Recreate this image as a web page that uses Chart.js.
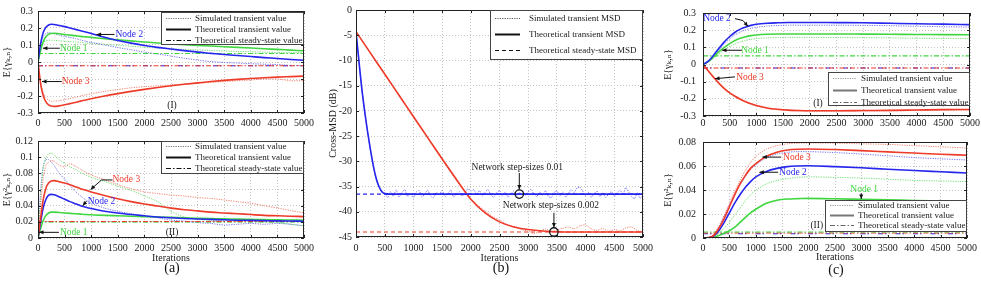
<!DOCTYPE html>
<html>
<head>
<meta charset="utf-8">
<script src="https://cdn.jsdelivr.net/npm/chart.js@4.4.1/dist/chart.umd.min.js"></script>
<style>
  body { margin: 0; background: #fff; }
  #wrap { position: relative; width: 981px; height: 281px; overflow: hidden; font-family: "Liberation Serif", serif; }
  #wrap canvas { position: absolute; }
  .cap { position: absolute; font-size: 14px; transform: translate(-50%, -50%); color: #111; }
</style>
</head>
<body>
<div id="wrap">
  <canvas id="a1" width="318" height="130" style="left:0;top:0"></canvas>
  <canvas id="a2" width="318" height="151" style="left:0;top:130px"></canvas>
  <canvas id="b" width="336" height="281" style="left:322px;top:0"></canvas>
  <canvas id="c1" width="321" height="130" style="left:660px;top:0"></canvas>
  <canvas id="c2" width="321" height="152" style="left:660px;top:129px"></canvas>
  <div class="cap" style="left:172px;top:268px">(a)</div>
  <div class="cap" style="left:501px;top:268px">(b)</div>
  <div class="cap" style="left:836px;top:270px">(c)</div>
</div>
<script>
// ---- tick labels ----
const iterTicks = [0, 500, 1000, 1500, 2000, 2500, 3000, 3500, 4000, 4500, 5000];
const gammaTicks = [-0.3, -0.2, -0.1, 0, 0.1, 0.2, 0.3];
const gamma2TicksA = [0, 0.02, 0.04, 0.06, 0.08, 0.1, 0.12];
const gamma2TicksC = [0, 0.02, 0.04, 0.06, 0.08];
const msdTicks = [-45, -40, -35, -30, -25, -20, -15, -10, -5, 0];

// ---- (a) iterations ----
const itA = [0, 50, 100, 150, 200, 250, 300, 400, 500, 600, 700, 800, 900, 1000, 1250, 1500, 1750, 2000, 2250, 2500, 2750, 3000, 3250, 3500, 3750, 4000, 4250, 4500, 4750, 5000];

// (a)(I) E{gamma}
const aThBlue = [0, 0.11, 0.175, 0.205, 0.218, 0.222, 0.221, 0.215, 0.208, 0.2, 0.192, 0.184, 0.176, 0.168, 0.146, 0.127, 0.111, 0.097, 0.086, 0.076, 0.067, 0.058, 0.051, 0.044, 0.038, 0.032, 0.026, 0.021, 0.015, 0.01];
const aThGreen = [0, 0.07, 0.12, 0.15, 0.163, 0.168, 0.169, 0.166, 0.162, 0.158, 0.155, 0.151, 0.148, 0.145, 0.137, 0.13, 0.124, 0.118, 0.112, 0.107, 0.102, 0.098, 0.094, 0.09, 0.086, 0.082, 0.078, 0.074, 0.07, 0.066];
const aThRed = [0, -0.13, -0.2, -0.235, -0.252, -0.259, -0.261, -0.258, -0.252, -0.245, -0.238, -0.23, -0.223, -0.216, -0.2, -0.186, -0.173, -0.161, -0.15, -0.14, -0.131, -0.123, -0.115, -0.108, -0.102, -0.097, -0.093, -0.089, -0.086, -0.083];
const aSimBlue = [0, 0.1, 0.15, 0.168, 0.172, 0.17, 0.166, 0.158, 0.15, 0.145, 0.138, 0.13, 0.122, 0.115, 0.1, 0.085, 0.072, 0.058, 0.047, 0.035, 0.022, 0.012, 0.002, -0.003, -0.006, -0.01, -0.013, -0.015, -0.02, -0.022];
const aSimGreen = [0, 0.08, 0.115, 0.125, 0.128, 0.128, 0.127, 0.125, 0.122, 0.12, 0.118, 0.115, 0.112, 0.11, 0.104, 0.098, 0.092, 0.087, 0.082, 0.078, 0.074, 0.071, 0.068, 0.065, 0.062, 0.06, 0.058, 0.056, 0.055, 0.054];
const aSimRed = [0, -0.12, -0.18, -0.21, -0.225, -0.232, -0.23, -0.228, -0.222, -0.215, -0.208, -0.2, -0.193, -0.187, -0.173, -0.162, -0.152, -0.145, -0.14, -0.135, -0.13, -0.125, -0.12, -0.115, -0.11, -0.106, -0.1, -0.1, -0.11, -0.11];
const aStGreen = 0.05, aStRed = -0.022, aStBlue = -0.022;

// (a)(II) E{gamma^2}
const a2ThRed = [0, 0.025, 0.048, 0.062, 0.068, 0.0705, 0.071, 0.0695, 0.068, 0.066, 0.0635, 0.061, 0.059, 0.057, 0.0525, 0.0485, 0.045, 0.042, 0.0395, 0.037, 0.035, 0.0335, 0.032, 0.031, 0.03, 0.029, 0.028, 0.0275, 0.027, 0.0265];
const a2ThBlue = [0, 0.02, 0.038, 0.048, 0.053, 0.054, 0.0535, 0.051, 0.048, 0.045, 0.0425, 0.04, 0.038, 0.0365, 0.033, 0.031, 0.029, 0.0275, 0.026, 0.025, 0.0242, 0.0235, 0.023, 0.0225, 0.022, 0.0218, 0.0215, 0.0212, 0.021, 0.0208];
const a2ThGreen = [0, 0.012, 0.022, 0.028, 0.031, 0.032, 0.032, 0.0315, 0.031, 0.0305, 0.03, 0.0295, 0.029, 0.0287, 0.028, 0.0275, 0.027, 0.0265, 0.026, 0.0255, 0.025, 0.0245, 0.024, 0.0237, 0.0233, 0.023, 0.0227, 0.0224, 0.0222, 0.022];
const a2SimRed = [0, 0.04, 0.075, 0.09, 0.094, 0.096, 0.095, 0.09, 0.088, 0.092, 0.089, 0.085, 0.081, 0.078, 0.072, 0.066, 0.061, 0.057, 0.055, 0.053, 0.052, 0.05, 0.049, 0.047, 0.045, 0.043, 0.04, 0.037, 0.034, 0.031];
const a2SimGreen = [0, 0.05, 0.088, 0.1, 0.104, 0.105, 0.103, 0.097, 0.092, 0.088, 0.085, 0.081, 0.078, 0.075, 0.07, 0.064, 0.059, 0.052, 0.045, 0.033, 0.026, 0.023, 0.022, 0.022, 0.021, 0.021, 0.02, 0.019, 0.017, 0.015];
const a2SimBlue = [0, 0.06, 0.09, 0.097, 0.097, 0.094, 0.09, 0.08, 0.073, 0.065, 0.058, 0.052, 0.047, 0.043, 0.037, 0.033, 0.03, 0.027, 0.025, 0.022, 0.021, 0.019, 0.018, 0.016, 0.017, 0.018, 0.017, 0.018, 0.017, 0.015];
const a2StRed = 0.0205, a2StGreen = 0.0198, a2StBlue = 0.0201;

// ---- (b) Cross-MSD (dB) ----
const itBBlue = [0, 50, 100, 150, 200, 250, 300, 350, 400, 450, 500, 600, 800, 1000, 1500, 2000, 2500, 3000, 3500, 4000, 4500, 5000];
const bThBlue = [-4.3, -10, -15.5, -20, -24, -27.6, -30.8, -33.3, -35, -36, -36.4, -36.5, -36.5, -36.5, -36.5, -36.5, -36.5, -36.5, -36.5, -36.5, -36.5, -36.5];
const itBRed = [0, 250, 500, 750, 1000, 1250, 1500, 1750, 2000, 2250, 2500, 2750, 3000, 3250, 3500, 3750, 4000, 4500, 5000];
const bThRed = [-4.3, -8.5, -12.7, -16.9, -21.1, -25.3, -29.5, -33.6, -37.5, -40.2, -42, -43, -43.5, -43.8, -43.95, -44, -44, -44, -44];
const itB50 = Array.from({ length: 101 }, (_, i) => i * 50);
const bSimBlue = [-4.3, -10.1, -15.6, -20.1, -24.1, -27.7, -30.9, -33.5, -35.1, -36.2, -36.3,
  -37.2, -36.0, -36.9, -35.7, -37.1, -36.2, -35.6, -37.0, -36.3, -37.3,
  -36.1, -35.8, -37.1, -36.4, -35.7, -36.9, -37.2, -36.2, -36.6, -35.8,
  -37.0, -36.4, -35.7, -37.1, -36.5, -36.0, -36.9, -36.2, -35.4, -35.9,
  -35.6, -36.5, -35.8, -36.9, -36.1, -35.6, -36.7, -37.1, -36.2, -35.8,
  -36.9, -36.1, -37.1, -36.4, -35.9, -37.0, -36.2, -35.7, -36.7, -36.1,
  -35.5, -36.5, -37.0, -36.1, -36.7, -35.8, -36.9, -37.2, -36.2, -35.9,
  -36.9, -36.1, -37.1, -36.4, -35.6, -36.2, -35.3, -35.1, -35.9, -36.9,
  -36.2, -37.1, -36.4, -35.9, -37.0, -36.2, -37.2, -36.5, -36.0, -36.9,
  -36.2, -35.7, -36.6, -35.2, -36.1, -37.0, -37.4, -36.3, -37.3, -36.8];
const itB100 = Array.from({ length: 51 }, (_, i) => i * 100);
const bSimRed = [-4.3, -6.0, -7.7, -9.4, -11.1, -12.8, -14.5, -16.2, -17.9, -19.6,
  -21.3, -23.0, -24.6, -26.3, -28.0, -29.7, -31.4, -33.0, -34.6, -36.0,
  -37.4, -38.5, -39.4, -40.3, -41.1, -41.6, -42.3, -42.8, -43.0, -43.6,
  -43.8, -44.3, -43.9, -43.4, -44.0, -43.6, -43.3, -43.0, -43.4, -42.8,
  -42.6, -43.4, -43.7, -43.3, -43.9, -43.5, -43.8, -43.2, -43.0, -43.7, -44.0];
const bStBlue = -36.5, bStRed = -44;

// ---- (c) ----
const itC = [0, 100, 200, 300, 400, 500, 600, 700, 800, 900, 1000, 1200, 1400, 1600, 1800, 2000, 2500, 3000, 3500, 4000, 4500, 5000];
const cThBlue = [0, 0.02, 0.055, 0.095, 0.132, 0.163, 0.188, 0.206, 0.219, 0.228, 0.234, 0.24, 0.243, 0.245, 0.245, 0.245, 0.244, 0.243, 0.24, 0.237, 0.235, 0.232];
const cSimBlue = [0, 0.017, 0.048, 0.085, 0.12, 0.15, 0.173, 0.19, 0.202, 0.211, 0.217, 0.224, 0.227, 0.229, 0.229, 0.229, 0.229, 0.228, 0.226, 0.223, 0.22, 0.218];
const cThGreen = [0, 0.018, 0.045, 0.075, 0.1, 0.122, 0.14, 0.153, 0.162, 0.168, 0.172, 0.176, 0.178, 0.178, 0.178, 0.178, 0.178, 0.177, 0.176, 0.175, 0.174, 0.173];
const cSimGreen = [0, 0.014, 0.036, 0.062, 0.085, 0.104, 0.12, 0.132, 0.141, 0.147, 0.151, 0.155, 0.157, 0.158, 0.158, 0.158, 0.157, 0.156, 0.155, 0.153, 0.152, 0.151];
const cThRed = [0, -0.038, -0.075, -0.11, -0.14, -0.165, -0.185, -0.202, -0.217, -0.229, -0.239, -0.253, -0.261, -0.266, -0.268, -0.269, -0.269, -0.268, -0.267, -0.265, -0.263, -0.262];
const cSimRed = [0, -0.04, -0.078, -0.113, -0.143, -0.168, -0.188, -0.205, -0.22, -0.232, -0.242, -0.256, -0.264, -0.269, -0.271, -0.272, -0.272, -0.271, -0.27, -0.268, -0.266, -0.265];
const cStGreen = 0.05, cStRed = -0.02, cStBlue = -0.02;

const c2ThRed = [0, 0.0003, 0.002, 0.008, 0.016, 0.026, 0.036, 0.045, 0.052, 0.058, 0.062, 0.068, 0.0715, 0.0733, 0.074, 0.0742, 0.0737, 0.0728, 0.0718, 0.0708, 0.0698, 0.069];
const c2ThBlue = [0, 0.0002, 0.0015, 0.006, 0.013, 0.021, 0.029, 0.036, 0.042, 0.047, 0.051, 0.0555, 0.058, 0.0595, 0.06, 0.0602, 0.0595, 0.0585, 0.0573, 0.0562, 0.0552, 0.0542];
const c2ThGreen = [0, 0, 0.0005, 0.002, 0.004, 0.006, 0.009, 0.013, 0.017, 0.021, 0.024, 0.029, 0.0315, 0.0325, 0.0328, 0.033, 0.0327, 0.0322, 0.0318, 0.0313, 0.0309, 0.0305];
const c2SimRed = [0, 0.0003, 0.003, 0.01, 0.019, 0.029, 0.039, 0.048, 0.056, 0.063, 0.068, 0.074, 0.077, 0.0785, 0.079, 0.0792, 0.079, 0.0785, 0.078, 0.077, 0.076, 0.075];
const c2SimBlue = [0, 0.0003, 0.0025, 0.009, 0.018, 0.027, 0.036, 0.044, 0.051, 0.057, 0.061, 0.067, 0.07, 0.0715, 0.072, 0.072, 0.0712, 0.07, 0.0685, 0.067, 0.066, 0.065];
const c2SimGreen = [0, 0, 0.001, 0.004, 0.008, 0.013, 0.019, 0.025, 0.031, 0.036, 0.04, 0.045, 0.048, 0.0495, 0.0505, 0.051, 0.0505, 0.05, 0.049, 0.048, 0.0475, 0.047];
const c2StGreen = 0.005, c2StRed = 0.0042, c2StBlue = 0.0036;

// legend texts
const legValue = ['Simulated transient value', 'Theoretical transient value', 'Theoretical steady-state value'];
const legMsd = ['Simulated transient MSD', 'Theoretical transient MSD', 'Theoretical steady-state MSD'];

// ---- styles ----
const RED = '#ee3a28', BLUE = '#2626ee', GREEN = '#40d640';
const RED_L = 'rgba(240,90,70,0.75)', BLUE_L = 'rgba(70,70,240,0.75)', GREEN_L = 'rgba(80,215,80,0.8)';
const INK = '#1a1a1a', GRID = '#c4c4c4';
const FONT = '"Liberation Serif", "DejaVu Serif", serif';
const tickFont = { family: FONT, size: 10 };
const DASHDOT = [5, 2, 1.5, 2];

const pts = (xs, ys) => xs.map((x, i) => ({ x: x, y: ys[i] }));
const th = (xs, ys, c, w) => ({ data: pts(xs, ys), borderColor: c, borderWidth: w || 1.6, pointRadius: 0, cubicInterpolationMode: 'monotone', fill: false });
const sim = (xs, ys, c) => ({ data: pts(xs, ys), borderColor: c, borderWidth: 1, borderDash: [1.2, 1.2], pointRadius: 0, tension: 0.2, fill: false });
const st = (v, c, dash) => ({ data: [{ x: 0, y: v }, { x: 5000, y: v }], borderColor: c, borderWidth: 1.1, borderDash: dash || DASHDOT, pointRadius: 0, fill: false });

function legItems(texts, gray) {
  return [
    { t: texts[0], dash: [1.2, 1.2], w: 1, c: gray ? '#999' : '#777' },
    { t: texts[1], dash: [], w: 2, c: gray ? '#777' : '#111' },
    { t: texts[2], dash: DASHDOT, w: 1, c: gray ? '#666' : '#111' }
  ];
}

// plot frame with inward ticks
const frame = {
  id: 'frame',
  afterDraw(chart) {
    const { ctx, chartArea: a, scales } = chart;
    ctx.save();
    ctx.strokeStyle = '#222';
    ctx.lineWidth = 1;
    ctx.strokeRect(Math.round(a.left) + 0.5, Math.round(a.top) + 0.5, Math.round(a.right - a.left) - 1, Math.round(a.bottom - a.top) - 1);
    ctx.beginPath();
    scales.x.ticks.forEach(t => {
      const p = Math.round(scales.x.getPixelForValue(t.value)) + 0.5;
      ctx.moveTo(p, a.bottom); ctx.lineTo(p, a.bottom - 3);
      ctx.moveTo(p, a.top); ctx.lineTo(p, a.top + 3);
    });
    scales.y.ticks.forEach(t => {
      const p = Math.round(scales.y.getPixelForValue(t.value)) + 0.5;
      ctx.moveTo(a.left, p); ctx.lineTo(a.left + 3, p);
      ctx.moveTo(a.right, p); ctx.lineTo(a.right - 3, p);
    });
    ctx.stroke();
    ctx.restore();
  }
};

// boxed legend inside the plot
const boxLegend = {
  id: 'boxLegend',
  afterDraw(chart, args, o) {
    if (!o || !o.items) return;
    const { ctx, chartArea: a } = chart;
    const x1 = Math.round(a.right - o.width);
    const y1 = Math.round(o.fromBottom != null ? a.bottom - o.fromBottom - o.height : a.top + o.fromTop);
    ctx.save();
    ctx.fillStyle = '#fff';
    ctx.fillRect(x1, y1, o.width, o.height);
    ctx.strokeStyle = '#444';
    ctx.lineWidth = 1;
    ctx.strokeRect(x1 + 0.5, y1 + 0.5, o.width - 1, o.height - 1);
    ctx.font = o.font + 'px ' + FONT;
    ctx.textBaseline = 'middle';
    o.items.forEach((it, i) => {
      const y = Math.round(y1 + o.pad + i * o.row) + 0.5;
      ctx.setLineDash(it.dash);
      ctx.lineWidth = it.w;
      ctx.strokeStyle = it.c;
      ctx.beginPath();
      ctx.moveTo(x1 + 5, y);
      ctx.lineTo(x1 + 5 + o.sample, y);
      ctx.stroke();
      ctx.setLineDash([]);
      ctx.fillStyle = INK;
      ctx.fillText(it.t, x1 + o.textX, y);
    });
    ctx.restore();
  }
};

// text labels, arrows and circles placed in data coordinates
const notes = {
  id: 'notes',
  afterDatasetsDraw(chart, args, o) {
    if (!o) return;
    const { ctx, scales: { x, y } } = chart;
    const px = p => [x.getPixelForValue(p[0]), y.getPixelForValue(p[1])];
    ctx.save();
    ctx.strokeStyle = '#111';
    ctx.fillStyle = '#111';
    ctx.lineWidth = 1;
    (o.arrows || []).forEach(ar => {
      const q = ar.map(px);
      ctx.beginPath();
      ctx.moveTo(q[0][0], q[0][1]);
      for (let i = 1; i < q.length; i++) ctx.lineTo(q[i][0], q[i][1]);
      ctx.stroke();
      const [x0, y0] = q[q.length - 2], [xe, ye] = q[q.length - 1];
      const ang = Math.atan2(ye - y0, xe - x0), L = 4.5, W = 2;
      ctx.beginPath();
      ctx.moveTo(xe, ye);
      ctx.lineTo(xe - L * Math.cos(ang) + W * Math.sin(ang), ye - L * Math.sin(ang) - W * Math.cos(ang));
      ctx.lineTo(xe - L * Math.cos(ang) - W * Math.sin(ang), ye - L * Math.sin(ang) + W * Math.cos(ang));
      ctx.closePath();
      ctx.fill();
    });
    ctx.lineWidth = 1.3;
    (o.circles || []).forEach(c => {
      const [cx, cy] = px(c);
      ctx.beginPath();
      ctx.arc(cx, cy, 4.2, 0, Math.PI * 2);
      ctx.stroke();
    });
    ctx.font = '9.5px ' + FONT;
    ctx.textAlign = 'center';
    ctx.textBaseline = 'middle';
    (o.labels || []).forEach(l => {
      const [lx, ly] = px([l.x, l.y]);
      ctx.fillStyle = l.c || INK;
      ctx.fillText(l.t, lx, ly);
    });
    ctx.restore();
  }
};

function makeChart(id, g) {
  return new Chart(document.getElementById(id), {
    type: 'line',
    data: { datasets: g.datasets },
    options: {
      responsive: false,
      animation: false,
      devicePixelRatio: 1,
      layout: { padding: { top: g.padTop, right: g.padRight, left: 0, bottom: 0 } },
      plugins: { legend: { display: false }, tooltip: { enabled: false }, boxLegend: g.legend, notes: g.notes },
      scales: {
        x: {
          type: 'linear', min: 0, max: 5000,
          afterBuildTicks: s => { s.ticks = iterTicks.map(v => ({ value: v })); },
          afterFit: s => { s.height = g.xHeight; },
          grid: { color: GRID, drawTicks: false },
          border: { display: false, dash: [1, 2] },
          ticks: { padding: g.xPad, maxRotation: 0, autoSkip: false, color: INK, font: tickFont, callback: v => String(v) },
          title: { display: !!g.xTitlePad, text: 'Iterations', color: INK, font: tickFont, padding: { top: 0, bottom: g.xTitlePad || 0 } }
        },
        y: {
          type: 'linear', min: g.yTicks[0], max: g.yTicks[g.yTicks.length - 1],
          afterBuildTicks: s => { s.ticks = g.yTicks.map(v => ({ value: v })); },
          afterFit: s => { s.width = g.yWidth; },
          grid: { color: GRID, drawTicks: false },
          border: { display: false, dash: [1, 2] },
          ticks: { padding: g.yPad, color: INK, font: tickFont, callback: v => String(v) },
          title: { display: true, text: g.yTitle, color: INK, font: tickFont, padding: { top: g.yTitlePad, bottom: 0 } }
        }
      }
    },
    plugins: [frame, boxLegend, notes]
  });
}

// (a) I
makeChart('a1', {
  padTop: 9, padRight: 12, yWidth: 38, xHeight: 17, xPad: 4, yPad: 5, yTitlePad: 1,
  yTicks: gammaTicks, yTitle: 'E{γₖ,ₙ}',
  datasets: [
    th(itA, aThBlue, BLUE), th(itA, aThGreen, GREEN), th(itA, aThRed, RED),
    st(aStGreen, GREEN), st(aStRed, RED), st(aStBlue, BLUE, [5, 2, 1.5, 9]),
    sim(itA, aSimBlue, BLUE_L), sim(itA, aSimGreen, GREEN_L), sim(itA, aSimRed, RED_L)
  ],
  legend: { items: legItems(legValue), width: 143, height: 33, fromTop: 1, pad: 5.5, row: 11, sample: 25, textX: 34, font: 9 },
  notes: {
    labels: [
      { t: 'Node 2', x: 1717, y: 0.162, c: BLUE }, { t: 'Node 1', x: 672, y: 0.081, c: GREEN },
      { t: 'Node 3', x: 709, y: -0.115, c: RED }, { t: '(I)', x: 2519, y: -0.254 }
    ],
    arrows: [[[1437, 0.162], [1101, 0.162]], [[411, 0.081], [93, 0.081]], [[448, -0.115], [75, -0.115]]]
  }
});

// (a) II
makeChart('a2', {
  padTop: 6, padRight: 12, yWidth: 38, xHeight: 43, xPad: 4, yPad: 5, yTitlePad: 1, xTitlePad: 17,
  yTicks: gamma2TicksA, yTitle: 'E{γ²ₖ,ₙ}',
  datasets: [
    th(itA, a2ThRed, RED), th(itA, a2ThBlue, BLUE), th(itA, a2ThGreen, GREEN),
    st(a2StRed, RED), st(a2StGreen, GREEN), st(a2StBlue, '#999'),
    sim(itA, a2SimRed, RED_L), sim(itA, a2SimGreen, GREEN_L), sim(itA, a2SimBlue, BLUE_L)
  ],
  legend: { items: legItems(legValue), width: 143, height: 33, fromTop: 0, pad: 5, row: 11, sample: 25, textX: 34, font: 9 },
  notes: {
    labels: [
      { t: 'Node 3', x: 1661, y: 0.0718, c: RED }, { t: 'Node 2', x: 1194, y: 0.0447, c: BLUE },
      { t: 'Node 1', x: 672, y: 0.007, c: GREEN }, { t: '(II)', x: 2519, y: 0.007 }
    ],
    arrows: [[[1400, 0.0718], [1194, 0.0718], [989, 0.06]], [[914, 0.0459], [840, 0.04]], [[392, 0.007], [19, 0.007]]]
  }
});

// (b)
makeChart('b', {
  padTop: 10, padRight: 12, yWidth: 34, xHeight: 44, xPad: 5, yPad: 4, yTitlePad: 5, xTitlePad: 17,
  yTicks: msdTicks, yTitle: 'Cross-MSD (dB)',
  datasets: [
    th(itBBlue, bThBlue, BLUE, 1.6), th(itBRed, bThRed, RED, 1.6),
    st(bStBlue, BLUE, [4, 3]), st(bStRed, RED, [4, 3]),
    sim(itB50, bSimBlue, BLUE_L), sim(itB100, bSimRed, RED_L)
  ],
  legend: { items: [
      { t: legMsd[0], dash: [1.2, 1.2], w: 1, c: '#555' },
      { t: legMsd[1], dash: [], w: 2, c: '#111' },
      { t: legMsd[2], dash: [4, 3], w: 1.2, c: '#111' }
    ], width: 153, height: 50, fromTop: 0, pad: 8, row: 16, sample: 25, textX: 39, font: 9 },
  notes: {
    labels: [{ t: 'Network step-sizes 0.01', x: 2810, y: -31.3 }, { t: 'Network step-sizes 0.002', x: 3396, y: -38.7 }],
    arrows: [[[2845, -32.3], [2845, -35.6]], [[3448, -40.2], [3448, -43.1]]],
    circles: [[2845, -36.5], [3448, -44]]
  }
});

// (c) I
makeChart('c1', {
  padTop: 8, padRight: 11, yWidth: 43, xHeight: 14, xPad: 1, yPad: 7, yTitlePad: 2,
  yTicks: gammaTicks, yTitle: 'E{γₖ,ₙ}',
  datasets: [
    th(itC, cThBlue, BLUE), th(itC, cThGreen, GREEN), th(itC, cThRed, RED),
    st(cStGreen, GREEN), st(cStRed, RED), st(cStBlue, BLUE, [5, 2, 1.5, 9]),
    sim(itC, cSimBlue, BLUE_L), sim(itC, cSimGreen, GREEN_L), sim(itC, cSimRed, RED_L)
  ],
  legend: { items: legItems(legValue, true), width: 142, height: 34, fromBottom: 10, pad: 6, row: 12, sample: 24, textX: 33, font: 9 },
  notes: {
    labels: [
      { t: 'Node 2', x: 262, y: 0.267, c: BLUE }, { t: 'Node 1', x: 974, y: 0.083, c: GREEN },
      { t: 'Node 3', x: 880, y: -0.078, c: RED }, { t: '(I)', x: 2154, y: -0.228 }
    ],
    arrows: [[[599, 0.267], [749, 0.256], [843, 0.222]], [[730, 0.083], [356, 0.083]], [[599, -0.072], [225, -0.083]]]
  }
});

// (c) II
makeChart('c2', {
  padTop: 6, padRight: 11, yWidth: 43, xHeight: 43, xPad: 4, yPad: 7, yTitlePad: 2, xTitlePad: 18,
  yTicks: gamma2TicksC, yTitle: 'E{γ²ₖ,ₙ}',
  datasets: [
    th(itC, c2ThRed, RED), th(itC, c2ThBlue, BLUE), th(itC, c2ThGreen, GREEN),
    st(c2StGreen, GREEN), st(c2StRed, RED), st(c2StBlue, BLUE, [5, 2, 1.5, 9]),
    sim(itC, c2SimRed, RED_L), sim(itC, c2SimBlue, BLUE_L), sim(itC, c2SimGreen, GREEN_L)
  ],
  legend: { items: legItems(legValue, true), width: 142, height: 32, fromBottom: 6, pad: 5, row: 10, sample: 24, textX: 33, font: 9 },
  notes: {
    labels: [
      { t: 'Node 3', x: 1779, y: 0.0674, c: RED }, { t: 'Node 2', x: 1704, y: 0.0548, c: BLUE },
      { t: 'Node 1', x: 3053, y: 0.0404, c: GREEN }, { t: '(II)', x: 2154, y: 0.0103 }
    ],
    arrows: [[[1480, 0.0674], [1124, 0.0674]], [[1423, 0.0548], [1068, 0.0548]], [[2997, 0.0373], [2997, 0.0325]]]
  }
});
</script>
</body>
</html>
